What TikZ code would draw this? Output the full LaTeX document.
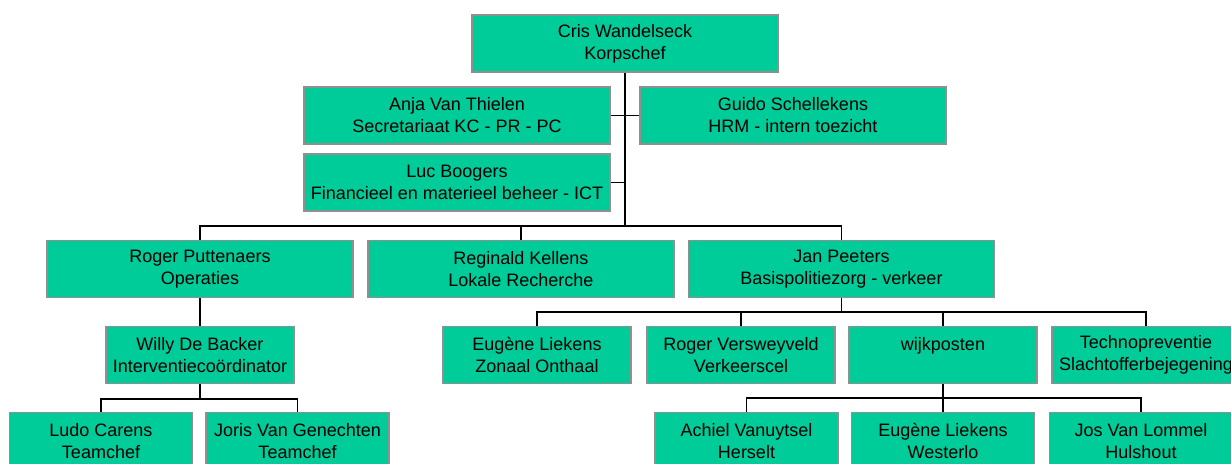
\documentclass[tikz,border=0pt]{standalone}
\usepackage{fontspec}
\setmainfont{Liberation Sans}
\definecolor{boxgreen}{HTML}{00CC99}
\definecolor{boxgray}{HTML}{909090}
\tikzset{
  orgbox/.style={draw=boxgray, fill=boxgreen, line width=1.8bp, minimum height=57bp,
    inner sep=0pt, align=center, font=\fontsize{18bp}{22bp}\selectfont},
  wide/.style={orgbox, minimum width=306bp},
  mid/.style={orgbox, minimum width=188bp},
  small/.style={orgbox, minimum width=183bp},
  link/.style={draw=black, line width=1.2bp}
}
\begin{document}
\begin{tikzpicture}[x=1bp,y=-1bp]
\useasboundingbox (0,0) rectangle (1231,464);
\clip (0,0) rectangle (1231,464);
% boxes
\node[wide] (top) at (625,43.5) {Cris Wandelseck\\Korpschef};
\node[wide] (anja) at (457,115.5) {Anja Van Thielen\\Secretariaat KC - PR - PC};
\node[wide] (guido) at (793,115.5) {Guido Schellekens\\HRM - intern toezicht};
\node[wide] (luc) at (457,182.5) {Luc Boogers\\Financieel en materieel beheer - ICT};
\node[wide] (rogerp) at (200,269) {Roger Puttenaers\\Operaties};
\node[wide] (reginald) at (521,269) {Reginald Kellens\\Lokale Recherche};
\node[wide] (jan) at (841.5,269) {Jan Peeters\\Basispolitiezorg - verkeer};
\node[mid] (willy) at (200,355) {Willy De Backer\\Interventiecoördinator};
\node[mid] (eugene) at (537,355) {Eugène Liekens\\Zonaal Onthaal};
\node[mid] (rogerv) at (741,355) {Roger Versweyveld\\Verkeerscel};
\node[mid] (wijk) at (943,355) {wijkposten\\\mbox{}};
\node[mid] (techno) at (1146,355) {Technopreventie\\Slachtofferbejegening};
\node[small] (ludo) at (101,441) {Ludo Carens\\Teamchef};
\node[small] (joris) at (297.5,441) {Joris Van Genechten\\Teamchef};
\node[small] (achiel) at (746.5,441) {Achiel Vanuytsel\\Herselt};
\node[small] (eugenew) at (943,441) {Eugène Liekens\\Westerlo};
\node[small] (jos) at (1141,441) {Jos Van Lommel\\Hulshout};
% bus points
\coordinate (b1) at (625,226);
\coordinate (b2) at (200,399);
\coordinate (b3) at (841.5,312);
\coordinate (b4) at (943,398);
% connectors
\draw[link] (top.south) -- (b1);
\draw[link] (anja.east) -- (guido.west);
\draw[link] (luc.east) -- (luc.east -| top.south);
\draw[link] (b1) -| (rogerp.north);
\draw[link] (b1) -| (reginald.north);
\draw[link] (b1) -| (jan.north);
\draw[link] (rogerp.south) -- (willy.north);
\draw[link] (willy.south) -- (b2);
\draw[link] (b2) -| (ludo.north);
\draw[link] (b2) -| (joris.north);
\draw[link] (jan.south) -- (b3);
\draw[link] (b3) -| (eugene.north);
\draw[link] (b3) -| (rogerv.north);
\draw[link] (b3) -| (wijk.north);
\draw[link] (b3) -| (techno.north);
\draw[link] (wijk.south) -- (b4);
\draw[link] (b4) -| (achiel.north);
\draw[link] (b4) -| (eugenew.north);
\draw[link] (b4) -| (jos.north);
\end{tikzpicture}
\end{document}
